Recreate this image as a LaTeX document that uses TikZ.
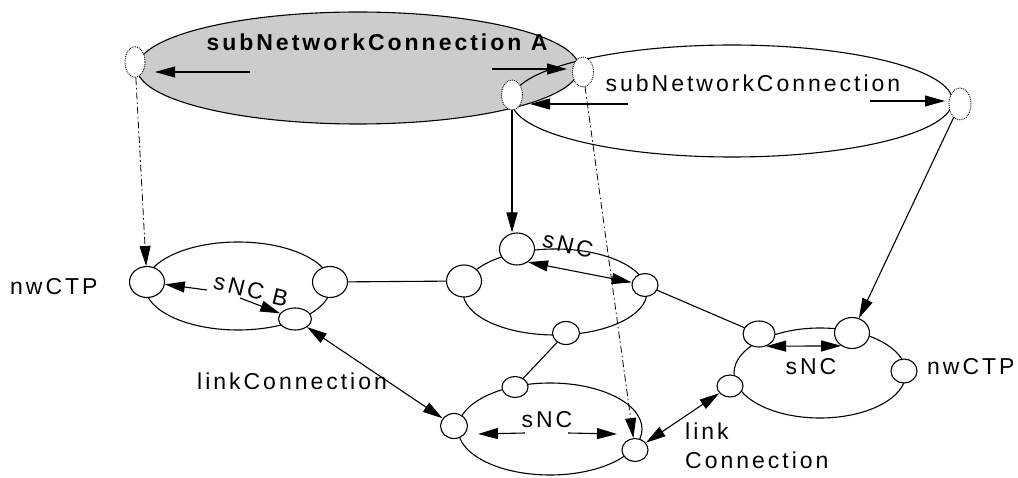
\documentclass[tikz,border=0pt]{standalone}
\usepackage{fontspec}
\setmainfont{Liberation Sans}
\newfontfamily\lab[LetterSpace=13]{Liberation Sans}
\usetikzlibrary{shapes.geometric,arrows.meta}
\tikzset{
  big/.style={ellipse, draw, line width=1.1pt, inner sep=0pt},
  port/.style={ellipse, draw, fill=white, line width=1.1pt, inner sep=0pt},
  vport/.style={ellipse, draw, densely dotted, fill=white, line width=0.9pt, inner sep=0pt},
  tip/.style={-{Triangle[length=20pt,width=11pt]}},
  dtip/.style={{Triangle[length=20pt,width=11pt]}-{Triangle[length=20pt,width=11pt]}},
  conn/.style={line width=1.1pt},
  dd/.style={line width=0.8pt, dash pattern=on 7pt off 3pt on 1.5pt off 3pt},
  txt/.style={font=\lab\fontsize{23}{29}\selectfont, inner sep=0pt},
  btxt/.style={font=\lab\bfseries\fontsize{23}{29}\selectfont, inner sep=0pt},
}
\begin{document}
\begin{tikzpicture}[x=1pt,y=-1pt]
\useasboundingbox (0,0) rectangle (1018,478);
% big ellipses
\node[big, fill=gray!40, minimum width=442pt, minimum height=112pt] (A) at (358,68) {};
\node[big, minimum width=441pt, minimum height=112pt] (S) at (732,101) {};
% sub network ellipses
\node[big, minimum width=186pt, minimum height=88pt] (L) at (238,286) {};
\node[big, minimum width=184pt, minimum height=86pt] (M) at (555,292) {};
\node[big, minimum width=184pt, minimum height=92pt] (B) at (550,429) {};
\node[big, minimum width=172pt, minimum height=90pt] (R) at (820,373) {};
% dotted ports
\node[vport, minimum width=20pt, minimum height=31pt] (dA1) at (135,62) {};
\node[vport, minimum width=21pt, minimum height=30pt] (dA2) at (583,72) {};
\node[vport, minimum width=21pt, minimum height=30pt] (dS1) at (512,95) {};
\node[vport, minimum width=22pt, minimum height=32pt] (dS2) at (960,104) {};
% ports
\node[port, minimum width=35pt, minimum height=31pt] (nL1) at (147,282) {};
\node[port, minimum width=35pt, minimum height=31pt] (nL2) at (330,282) {};
\node[port, minimum width=33pt, minimum height=22pt] (nL3) at (295,319) {};
\node[port, minimum width=35pt, minimum height=32pt] (nM1) at (517,249) {};
\node[port, minimum width=35pt, minimum height=32pt] (nM2) at (464,281) {};
\node[port, minimum width=26pt, minimum height=23pt] (nM3) at (645,285) {};
\node[port, minimum width=27pt, minimum height=23pt] (nM4) at (566,333) {};
\node[port, minimum width=26pt, minimum height=21pt] (nB1) at (515,387) {};
\node[port, minimum width=26pt, minimum height=23pt] (nB2) at (635,450) {};
\node[port, minimum width=27pt, minimum height=25pt] (nB3) at (454,426) {};
\node[port, minimum width=32pt, minimum height=26pt] (nR1) at (759,334) {};
\node[port, minimum width=35pt, minimum height=31pt] (nR2) at (852,333) {};
\node[port, minimum width=26pt, minimum height=24pt] (nR3) at (904,371) {};
\node[port, minimum width=26pt, minimum height=22pt] (nR4) at (730,386) {};
% texts
\node[btxt, anchor=base] (tA) at (377,51) {subNetworkConnection A};
\node[txt, anchor=base] (tS) at (753,92) {subNetworkConnection};
\node[txt, anchor=base west] (tN1) at (10,295) {nwCTP};
\node[txt, anchor=base west] (tN2) at (927,375) {nwCTP};
\node[txt, anchor=base] (tB) at (547,428) {sNC};
\node[txt, anchor=base] (tR) at (811,375) {sNC};
\node[txt, rotate=-14] (tM) at (568,245) {sNC};
\node[txt, rotate=-14] (tL) at (251,290) {sNC B};
\node[txt, anchor=base west] (tLC) at (197,389) {linkConnection};
\node[txt, anchor=base west, align=left] (tLC2) at (685,468) {link\\Connection};
% free ends
\coordinate (cA1) at (250,72);  \coordinate (cA1t) at (155,72);
\coordinate (cA2) at (492,69);  \coordinate (cA2t) at (567,69);
\coordinate (cS1) at (628,104); \coordinate (cS1t) at (530,104);
\coordinate (cS2) at (870,101); \coordinate (cS2t) at (945,101);
\coordinate (cL1) at (207,290); \coordinate (cL2) at (240,298);
\coordinate (cB1) at (525,433); \coordinate (cB1t) at (478,434);
\coordinate (cB2) at (568,433); \coordinate (cB2t) at (617,434);
% connectors
\draw[dd, tip] (dA1) -- (nL1);
\draw[dd, tip] (dA2) -- (nB2);
\draw[conn] (nL2) -- (nM2);
\draw[conn, tip] (cA1) -- (cA1t);
\draw[conn, tip] (cA2) -- (cA2t);
\draw[conn, tip] (cS1) -- (cS1t);
\draw[conn, tip] (cS2) -- (cS2t);
\draw[conn, tip] (cL1) -- (nL1);
\draw[conn, tip] (cL2) -- (nL3);
\draw[conn, tip] (cB1) -- (cB1t);
\draw[conn, tip] (cB2) -- (cB2t);
\draw[conn, tip] (dS1.south) -- (dS1.south |- nM1.north);
\draw[conn, tip] (dS2) -- (nR2);
\draw[conn] (nM3) -- (nR1);
\draw[conn] (nM4) -- (nB1);
\draw[conn, dtip] (nL3) -- (nB3);
\draw[conn, dtip] (nB2) -- (nR4);
\draw[conn, dtip] (nM1.-50) -- (nM3);
\draw[conn, dtip] (nR1.-60) -- (nR2.-130);
\end{tikzpicture}
\end{document}
